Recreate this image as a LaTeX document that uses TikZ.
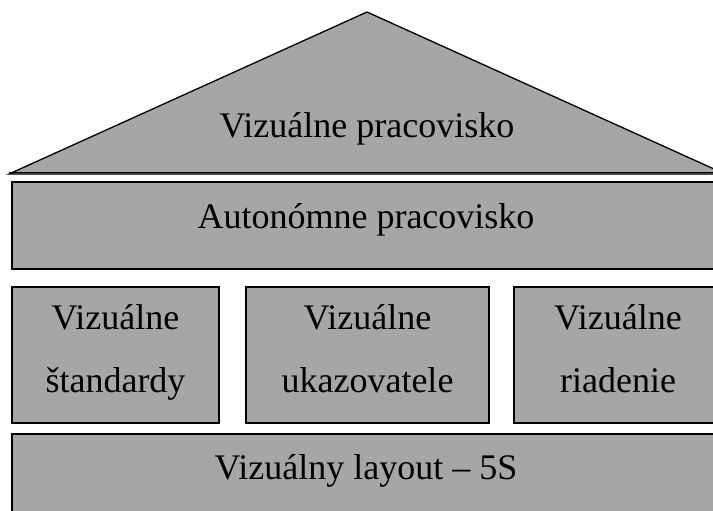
\documentclass[tikz,border=0pt]{standalone}
\usepackage{fontspec}
\setmainfont{Liberation Serif}
\definecolor{housegray}{HTML}{A6A6A6}
\begin{document}
\begin{tikzpicture}[x=1pt,y=-1pt, line join=miter, font=\fontsize{36}{43}\selectfont]
	\def\xl{12} \def\xr{726} % left and right edge of the house
	\tikzset{part/.style={draw=black, line width=1.3pt, fill=housegray},
		lbl/.style={anchor=base, inner sep=0pt}}
	\useasboundingbox (0,0) rectangle (713,511);
	\clip (0,0) rectangle (713,511);
	% roof
	\draw[part] (9,174) -- (367,12) -- (725,174) -- cycle;
	\draw[line width=1.3pt] (9,172.5) -- (725,172.5);
	\node[lbl] (roof) at (367,138) {Vizuálne pracovisko};
	% autonomous level
	\draw[part] (\xl,182) rectangle (\xr,269);
	\node[lbl] (auto) at (366,228) {Autonómne pracovisko};
	% three pillars
	\foreach \xa/\xb/\t [count=\i] in {12/219/štandardy, 246/489/ukazovatele, 514/722/riadenie}{
		\draw[part] (\xa,287) rectangle (\xb,423);
		\node[lbl] (pillar\i a) at ({(\xa+\xb)/2},329) {Vizuálne};
		\node[lbl] (pillar\i b) at ({(\xa+\xb)/2},392) {\t};
	}
	% base
	\draw[part] (\xl,434) rectangle (\xr,530);
	\node[lbl] (base) at (366,479) {Vizuálny layout – 5S};
\end{tikzpicture}
\end{document}
